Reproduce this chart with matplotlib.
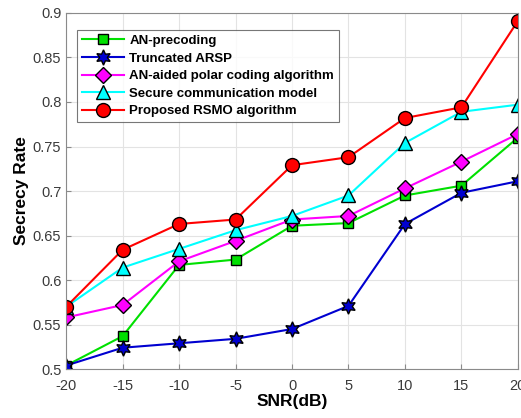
import matplotlib
matplotlib.use("Agg")
import matplotlib.pyplot as plt

plt.rcParams["font.family"] = ["Liberation Sans", "DejaVu Sans"]
plt.rcParams["axes.unicode_minus"] = False

# SNR values (dB)
snr = [-20, -15, -10, -5, 0, 5, 10, 15, 20]

# Secrecy rate for each scheme
an_precoding = [0.504, 0.537, 0.617, 0.623, 0.661, 0.664, 0.695, 0.706, 0.760]
truncated_arsp = [0.504, 0.524, 0.529, 0.534, 0.545, 0.571, 0.663, 0.698, 0.711]
an_polar = [0.558, 0.572, 0.621, 0.644, 0.668, 0.672, 0.703, 0.733, 0.764]
secure_comm = [0.570, 0.614, 0.635, 0.656, 0.672, 0.695, 0.754, 0.789, 0.797]
proposed_rsmo = [0.570, 0.634, 0.663, 0.668, 0.729, 0.738, 0.782, 0.794, 0.891]

labels = [
    "AN-precoding",
    "Truncated ARSP",
    "AN-aided polar coding algorithm",
    "Secure communication model",
    "Proposed RSMO algorithm",
]

fig = plt.figure(figsize=(5.21, 4.18), dpi=100)
ax = fig.add_axes([0.127, 0.117, 0.867, 0.852])

ax.plot(snr, an_precoding, color="#00e000", marker="s", markersize=7,
        markerfacecolor="#00e000", markeredgecolor="black", lw=1.5, label=labels[0])
ax.plot(snr, truncated_arsp, color="#0000d0", marker=(6, 1, 0), markersize=11,
        markerfacecolor="#0000d0", markeredgecolor="black", lw=1.5, label=labels[1])
ax.plot(snr, an_polar, color="#ff00ff", marker="D", markersize=8,
        markerfacecolor="#ff00ff", markeredgecolor="black", lw=1.5, label=labels[2])
ax.plot(snr, secure_comm, color="cyan", marker="^", markersize=10,
        markerfacecolor="cyan", markeredgecolor="black", lw=1.5, label=labels[3])
ax.plot(snr, proposed_rsmo, color="red", marker="o", markersize=10,
        markerfacecolor="red", markeredgecolor="black", lw=1.5, label=labels[4])

ax.set_xlim(-20, 20)
ax.set_ylim(0.5, 0.9)
ax.set_xticks(snr)
ax.set_yticks([0.5, 0.55, 0.6, 0.65, 0.7, 0.75, 0.8, 0.85, 0.9])
ax.set_yticklabels(["0.5", "0.55", "0.6", "0.65", "0.7", "0.75", "0.8", "0.85", "0.9"])

ax.grid(True, color="#e3e3e3", lw=0.8)
ax.set_axisbelow(True)
for s in ax.spines.values():
    s.set_color("#8a8a8a")
ax.tick_params(direction="in", colors="#8a8a8a", labelcolor="#3a3a3a", labelsize=10.5)
ax.tick_params(axis="x", pad=7)

ax.set_xlabel("SNR(dB)", fontsize=12.5, fontweight="bold", labelpad=1)
ax.set_ylabel("Secrecy Rate", fontsize=12.5, fontweight="bold", labelpad=3)

leg = ax.legend(loc="upper left", bbox_to_anchor=(0.01, 0.97), fancybox=False,
                edgecolor="#555555", prop={"weight": "bold", "size": 9.5},
                handlelength=3.2, borderpad=0.35, labelspacing=0.4, handletextpad=0.4)
leg.get_frame().set_linewidth(0.8)

fig.savefig("out.png", dpi=100)
